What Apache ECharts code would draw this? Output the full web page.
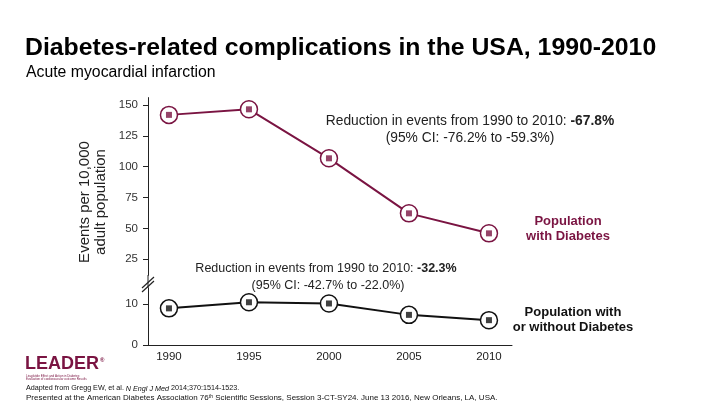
<!DOCTYPE html>
<html>
<head>
<meta charset="utf-8">
<script src="https://cdn.jsdelivr.net/npm/echarts@6/dist/echarts.min.js"></script>
<style>
html,body{margin:0;padding:0;background:#fff;}
#c{width:720px;height:405px;}
</style>
</head>
<body>
<div id="c"></div>
<script>
var years = [1990, 1995, 2000, 2005, 2010];
var withDiabetes = [142, 146.5, 106.8, 62.2, 46];
var withOrWithout = [9.0, 10.5, 10.2, 7.4, 6.1];
var upperTicks = [25, 50, 75, 100, 125, 150];
var lowerTicks = [0, 10];

var maroon = '#7a1442';
var dark = '#111111';
var fontFam = 'Liberation Sans, Arial, sans-serif';

function pairs(vals){ return years.map(function(y,i){ return [y, vals[i]]; }); }

var xMin = 1988.69, xMax = 2011.44;

var chart = echarts.init(document.getElementById('c'), null, {renderer:'canvas'});
var option = {
  animation: false,
  backgroundColor: '#fff',
  grid: [
    {left: 148, width: 364, top: 97.6, height: 177.7},
    {left: 148, width: 364, top: 288, height: 57}
  ],
  xAxis: [
    {gridIndex:0, type:'value', min:xMin, max:xMax, show:false},
    {gridIndex:1, type:'value', min:xMin, max:xMax,
     axisLine:{show:true, lineStyle:{color:'#222', width:1}},
     axisTick:{show:false}, splitLine:{show:false},
     axisLabel:{customValues: years, formatter:function(v){return String(v);},
       color:'#222', fontSize:11.5, fontFamily:fontFam, margin:6}}
  ],
  yAxis: [
    {gridIndex:0, type:'value', min:12, max:156,
     axisLine:{show:true, lineStyle:{color:'#222', width:1}},
     axisTick:{show:true, customValues: upperTicks, length:5, lineStyle:{color:'#222'}},
     axisLabel:{customValues: upperTicks, color:'#333', fontSize:11.5, fontFamily:fontFam, margin:10},
     splitLine:{show:false}},
    {gridIndex:1, type:'value', min:0, max:14,
     axisLine:{show:true, lineStyle:{color:'#222', width:1}},
     axisTick:{show:true, customValues: lowerTicks, length:5, lineStyle:{color:'#222'}},
     axisLabel:{customValues: lowerTicks, color:'#333', fontSize:11.5, fontFamily:fontFam, margin:10},
     splitLine:{show:false}}
  ],
  series: [
    {type:'line', xAxisIndex:0, yAxisIndex:0, data: pairs(withDiabetes),
     symbol:'circle', symbolSize:17,
     lineStyle:{color:maroon, width:2},
     itemStyle:{color:'#fff', borderColor:maroon, borderWidth:1.5}, z:2},
    {type:'scatter', xAxisIndex:0, yAxisIndex:0, data: pairs(withDiabetes),
     symbol:'rect', symbolSize:6, itemStyle:{color:maroon}, z:5},
    {type:'line', xAxisIndex:1, yAxisIndex:1, data: pairs(withOrWithout),
     symbol:'circle', symbolSize:17,
     lineStyle:{color:dark, width:2},
     itemStyle:{color:'#fff', borderColor:dark, borderWidth:1.5}, z:2},
    {type:'scatter', xAxisIndex:1, yAxisIndex:1, data: pairs(withOrWithout),
     symbol:'rect', symbolSize:6, itemStyle:{color:dark}, z:5}
  ],
  graphic: [
    {type:'text', left:25, top:36, style:{text:'Diabetes-related complications in the USA, 1990-2010',
      fill:'#000', font:'bold 24.8px '+fontFam}},
    {type:'text', left:26, top:65, style:{text:'Acute myocardial infarction',
      fill:'#000', font:'15.8px '+fontFam}},
    // y axis title
    {type:'text', x:93, y:202, rotation:Math.PI/2,
     style:{text:'Events per 10,000\nadult population', fill:'#222', font:'15px '+fontFam,
       align:'center', verticalAlign:'middle', lineHeight:16}},
    // axis break marks
    {type:'line', shape:{x1:142, y1:288, x2:154, y2:277}, style:{stroke:'#222', lineWidth:1.2}},
    {type:'line', shape:{x1:142, y1:292, x2:154, y2:281}, style:{stroke:'#222', lineWidth:1.2}},
    {type:'line', shape:{x1:148, y1:275, x2:148, y2:288}, style:{stroke:'#222', lineWidth:1}},
    // annotations upper
    {type:'text', x:470, y:121, style:{text:'{n|Reduction in events from 1990 to 2010: }{b|-67.8%}',
      align:'center', verticalAlign:'middle',
      rich:{n:{fill:'#222', font:'13.8px '+fontFam}, b:{fill:'#222', font:'bold 13.8px '+fontFam}}}},
    {type:'text', x:470, y:138, style:{text:'(95% CI: -76.2% to -59.3%)', fill:'#222',
      font:'13.8px '+fontFam, align:'center', verticalAlign:'middle'}},
    // annotations lower
    {type:'text', x:326, y:269, style:{text:'{n|Reduction in events from 1990 to 2010: }{b|-32.3%}',
      align:'center', verticalAlign:'middle',
      rich:{n:{fill:'#222', font:'12.5px '+fontFam}, b:{fill:'#222', font:'bold 12.5px '+fontFam}}}},
    {type:'text', x:328, y:286, style:{text:'(95% CI: -42.7% to -22.0%)', fill:'#222',
      font:'12.5px '+fontFam, align:'center', verticalAlign:'middle'}},
    // series labels
    {type:'text', x:568, y:229, style:{text:'Population\nwith Diabetes', fill:maroon,
      font:'bold 13px '+fontFam, align:'center', verticalAlign:'middle', lineHeight:15}},
    {type:'text', x:573, y:320, style:{text:'Population with\nor without Diabetes', fill:'#111',
      font:'bold 13px '+fontFam, align:'center', verticalAlign:'middle', lineHeight:15}},
    // logo
    {type:'text', left:25, top:355, style:{text:'LEADER', fill:'#7a1442',
      font:'bold 18px '+fontFam}},
    {type:'text', left:100, top:357, style:{text:'®', fill:'#7a1442', font:'bold 6px '+fontFam}},
    {type:'text', left:26, top:374, style:{text:'Liraglutide Effect and Action in Diabetes:\nEvaluation of cardiovascular outcome Results',
      fill:'#7a1442', font:'3px '+fontFam, lineHeight:3.5}},
    // footer
    {type:'text', left:26, top:385, style:{text:'{n|Adapted from Gregg EW, et al. }{i|N Engl J Med}{n| 2014;370:1514-1523.}',
      rich:{n:{fill:'#111', font:'7.2px '+fontFam}, i:{fill:'#111', font:'italic 7.2px '+fontFam}}}},
    {type:'text', left:26, top:394, style:{text:'{n|Presented at the American Diabetes Association 76}{s|th}{n| Scientific Sessions, Session 3-CT-SY24. June 13 2016, New Orleans, LA, USA.}',
      rich:{n:{fill:'#111', font:'8px '+fontFam, verticalAlign:'bottom'}, s:{fill:'#111', font:'5px '+fontFam, verticalAlign:'top'}}}}
  ]
};
chart.setOption(option);
</script>
</body>
</html>
